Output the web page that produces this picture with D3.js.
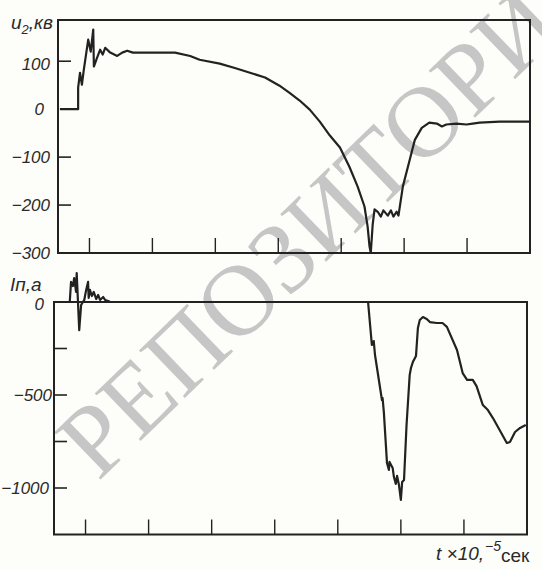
<!DOCTYPE html>
<html>
<head>
<meta charset="utf-8">
<script src="https://cdn.jsdelivr.net/npm/d3@7"></script>
<style>
  body { margin: 0; background: #fdfdf9; }
  svg { display: block; }
  text { font-family: "Liberation Sans", Arial, sans-serif; font-style: italic; fill: #2a2a2a; }
</style>
</head>
<body>
<script>
const WIDTH = 542;
const HEIGHT = 569;

// time axis, ticks without labels (units of 10^-5 s)
const xTicks = [1, 2, 3, 4, 5, 6, 7];

// upper panel: u2, kV
const uTickMarks = [100, -100, -200];
const uTickLabels = [100, 0, -100, -200, -300];
const tU = [0.53, 0.82, 0.82, 0.85, 0.88, 0.91, 0.98, 1.02, 1.06, 1.07,
  1.12, 1.17, 1.21, 1.25, 1.33, 1.44, 1.52, 1.60, 1.69, 1.96,
  2.36, 2.60, 2.75, 3.07, 3.31, 3.55, 3.79, 4.02, 4.18, 4.34,
  4.50, 4.66, 4.82, 4.98, 5.13, 5.26, 5.37, 5.42, 5.45, 5.47,
  5.50, 5.53, 5.58, 5.63, 5.67, 5.74, 5.79, 5.83, 5.88, 5.91,
  5.98, 6.09, 6.17, 6.28, 6.40, 6.52, 6.60, 6.67, 6.83, 6.99,
  7.09, 7.20, 7.52, 7.99];
const u2 = [0, 0, 45, 76, 51, 82, 145, 120, 166, 89,
  107, 124, 114, 128, 118, 111, 118, 122, 118, 118,
  118, 111, 103, 95, 86, 76, 66, 49, 34, 18,
  -1, -26, -55, -80, -120, -161, -203, -245, -286, -300,
  -241, -209, -214, -224, -211, -222, -211, -224, -214, -222,
  -161, -105, -64, -39, -28, -30, -36, -32, -30, -32,
  -30, -28, -26, -26];

// lower panel: In, A
const iTickMarks = [-250, -500, -750, -1000];
const iTickLabels = [0, -500, -1000];
const tI = [0.5, 0.75, 0.77, 0.80, 0.82, 0.85, 0.86, 0.90, 0.93, 0.98,
  1.01, 1.04, 1.05, 1.07, 1.10, 1.13, 1.17, 1.20, 1.23, 1.28,
  1.31, 1.36, 1.39, 5.48, 5.54, 5.57, 5.59, 5.70, 5.71, 5.73,
  5.78, 5.81, 5.82, 5.87, 5.89, 5.92, 5.94, 5.97, 6.00, 6.02,
  6.05, 6.09, 6.14, 6.16, 6.19, 6.24, 6.27, 6.30, 6.35, 6.41,
  6.46, 6.57, 6.66, 6.73, 6.89, 6.98, 7.05, 7.14, 7.20, 7.30,
  7.38, 7.46, 7.68, 7.73, 7.81, 7.89, 7.98];
const iP = [0, 0, 108, 86, 129, 54, 156, -151, -16, 11,
  65, 108, 22, 65, 32, 54, 16, 38, 11, 27,
  11, 5, 0, 0, -231, -210, -285, -527, -516, -591,
  -866, -903, -860, -892, -941, -978, -935, -984, -1064, -968,
  -957, -661, -392, -355, -323, -290, -140, -97, -81, -91,
  -108, -113, -113, -134, -258, -382, -419, -419, -452, -554,
  -581, -624, -758, -753, -699, -677, -661];

const INK = '#222';

const svg = d3.select('body')
  .append('svg')
  .attr('width', WIDTH)
  .attr('height', HEIGHT);

// watermark of the scan
svg.append('text')
  .attr('transform', 'translate(98,482) rotate(-44)')
  .style('font-family', '"Liberation Serif", "DejaVu Serif", serif')
  .style('font-style', 'normal')
  .style('font-size', '101px')
  .style('fill', '#c6c6c6')
  .text('РЕПОЗИТОРИЙ');

// ---- upper panel ----
const xTop = d3.scaleLinear().domain([0.5, 8]).range([58, 530]);
const yTop = d3.scaleLinear().domain([-300, 186]).range([253, 20]);

const gTop = svg.append('g');

gTop.append('rect')
  .attr('x', xTop(0.5))
  .attr('y', yTop(186))
  .attr('width', xTop(8) - xTop(0.5))
  .attr('height', yTop(-300) - yTop(186))
  .attr('fill', 'none')
  .attr('stroke', INK)
  .attr('stroke-width', 2);

gTop.selectAll('line.ytick')
  .data(uTickMarks)
  .enter()
  .append('line')
  .attr('x1', xTop(0.5))
  .attr('x2', xTop(0.5) + 13)
  .attr('y1', d => yTop(d))
  .attr('y2', d => yTop(d))
  .attr('stroke', INK)
  .attr('stroke-width', 1.6);

gTop.selectAll('line.xtick')
  .data(xTicks)
  .enter()
  .append('line')
  .attr('x1', d => xTop(d))
  .attr('x2', d => xTop(d))
  .attr('y1', yTop(-300))
  .attr('y2', yTop(-300) - 15)
  .attr('stroke', INK)
  .attr('stroke-width', 1.4);

gTop.selectAll('text.ylab')
  .data(uTickLabels)
  .enter()
  .append('text')
  .attr('x', d => d === 0 ? 44 : 50)
  .attr('y', d => d === 100 ? yTop(d) + 3 : yTop(d))
  .attr('dy', '0.36em')
  .attr('text-anchor', 'end')
  .style('font-size', '17px')
  .text(d => d < 0 ? '\u2212' + Math.abs(d) : d);

const uTitle = gTop.append('text')
  .attr('x', 11)
  .attr('y', 29)
  .style('font-size', '19px');
uTitle.append('tspan').text('u');
uTitle.append('tspan').attr('dy', 5).style('font-size', '13px').text('2');
uTitle.append('tspan').attr('dy', -5).text(',кв');

const lineTop = d3.line()
  .x((d, i) => xTop(tU[i]))
  .y(d => yTop(d));

gTop.append('path')
  .datum(u2)
  .attr('d', lineTop)
  .attr('fill', 'none')
  .attr('stroke', INK)
  .attr('stroke-width', 2.2)
  .attr('stroke-linejoin', 'round');

// ---- lower panel ----
const xBot = d3.scaleLinear().domain([0.5, 8]).range([54, 527]);
const yBot = d3.scaleLinear().domain([-1250, 0]).range([534.5, 302]);

const gBot = svg.append('g');

gBot.append('rect')
  .attr('x', xBot(0.5))
  .attr('y', yBot(0))
  .attr('width', xBot(8) - xBot(0.5))
  .attr('height', yBot(-1250) - yBot(0))
  .attr('fill', 'none')
  .attr('stroke', INK)
  .attr('stroke-width', 2);

gBot.selectAll('line.ytick')
  .data(iTickMarks)
  .enter()
  .append('line')
  .attr('x1', xBot(0.5))
  .attr('x2', xBot(0.5) + 13)
  .attr('y1', d => yBot(d))
  .attr('y2', d => yBot(d))
  .attr('stroke', INK)
  .attr('stroke-width', 1.6);

gBot.selectAll('line.xtick')
  .data(xTicks)
  .enter()
  .append('line')
  .attr('x1', d => xBot(d))
  .attr('x2', d => xBot(d))
  .attr('y1', yBot(-1250))
  .attr('y2', yBot(-1250) - 15)
  .attr('stroke', INK)
  .attr('stroke-width', 1.4);

gBot.selectAll('text.ylab')
  .data(iTickLabels)
  .enter()
  .append('text')
  .attr('x', d => d === 0 ? 44 : (d === -500 ? 52 : 49))
  .attr('y', d => d === 0 ? yBot(d) + 2 : yBot(d))
  .attr('dy', '0.36em')
  .attr('text-anchor', 'end')
  .style('font-size', '17px')
  .text(d => d < 0 ? '\u2212' + Math.abs(d) : d);

const iTitle = gBot.append('text')
  .attr('x', 10)
  .attr('y', 291)
  .style('font-size', '19px');
iTitle.append('tspan').text('Iп,а');

const lineBot = d3.line()
  .x((d, i) => xBot(tI[i]))
  .y(d => yBot(d));

gBot.append('path')
  .datum(iP)
  .attr('d', lineBot)
  .attr('fill', 'none')
  .attr('stroke', INK)
  .attr('stroke-width', 2.2)
  .attr('stroke-linejoin', 'round');

// time axis title
const tTitle = svg.append('text')
  .attr('x', 436)
  .attr('y', 560)
  .style('font-size', '19px');
tTitle.append('tspan').text('t ×10,');
tTitle.append('tspan').attr('dx', 1).attr('dy', -9).style('font-size', '14px').text('\u22125');
tTitle.append('tspan').attr('dy', 11).style('font-style', 'normal').text('сек');
</script>
</body>
</html>
